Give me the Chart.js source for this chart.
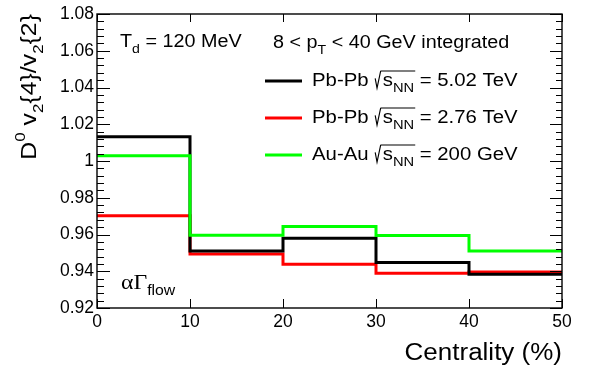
<!DOCTYPE html>
<html>
<head>
<meta charset="utf-8">
<script src="https://cdn.jsdelivr.net/npm/chart.js@4.4.1/dist/chart.umd.min.js"></script>
<style>
  html, body { margin: 0; padding: 0; background: #fff; }
  #wrap { width: 596px; height: 370px; }
</style>
</head>
<body>
<div id="wrap"><canvas id="chart" width="596" height="370"></canvas></div>
<script>
// bin edges in centrality (%) and one value per bin
const binEdges = [0, 10, 20, 30, 40, 50];
const pbpb502 = [1.0132, 0.9510, 0.9579, 0.9447, 0.9383];
const pbpb276 = [0.9702, 0.9494, 0.9438, 0.9389, 0.9396];
const auau200 = [1.0029, 0.9596, 0.9643, 0.9594, 0.9510];
const xTicks = [0, 10, 20, 30, 40, 50];
const yTicks = [0.92, 0.94, 0.96, 0.98, 1.00, 1.02, 1.04, 1.06, 1.08];

const SANS = "'Liberation Sans', Arial, sans-serif";
const SERIF = "'Liberation Serif', 'Times New Roman', serif";
const SX = 1.13; // text in the reference is a bit wide

function stepPoints(vals) {
  return binEdges.map((x, i) => ({ x: x, y: vals[Math.min(i, vals.length - 1)] }));
}

// parts: [text, kind, size, family]; kind: n | sub | sup | sqrtStart | sqrtEnd
function drawRich(ctx, x, y, parts, align) {
  ctx.save();
  let width = 0;
  parts.forEach(p => {
    if (p[1] === "sqrtStart") { width += p[2] * 0.42; return; }
    if (p[1] === "sqrtEnd") return;
    ctx.font = p[2] + "px " + (p[3] || SANS);
    width += ctx.measureText(p[0]).width;
  });
  ctx.translate(x, y);
  ctx.scale(SX, 1);
  let cx = align === "right" ? -width : 0;
  let sqrtX = null, sqrtSize = 0;
  ctx.fillStyle = "#000";
  ctx.strokeStyle = "#000";
  ctx.textBaseline = "alphabetic";
  ctx.textAlign = "left";
  parts.forEach(p => {
    const [t, kind, size, fam] = p;
    if (kind === "sqrtStart") {
      sqrtX = cx; sqrtSize = size;
      ctx.lineWidth = 1;
      ctx.beginPath();
      ctx.moveTo(cx + size * 0.05, -size * 0.42);
      ctx.lineTo(cx + size * 0.14, size * 0.12);
      ctx.lineTo(cx + size * 0.32, -size * 0.84);
      ctx.stroke();
      cx += size * 0.42;
      return;
    }
    if (kind === "sqrtEnd") {
      ctx.lineWidth = 1;
      ctx.beginPath();
      ctx.moveTo(sqrtX + sqrtSize * 0.32, -sqrtSize * 0.84);
      ctx.lineTo(cx + 1, -sqrtSize * 0.84);
      ctx.stroke();
      return;
    }
    ctx.font = size + "px " + (fam || SANS);
    let dy = 0;
    if (kind === "sub") dy = size * 0.45;
    if (kind === "sup") dy = -size * 0.75;
    ctx.fillText(t, cx, dy);
    cx += ctx.measureText(t).width;
  });
  ctx.restore();
}

function legendParts(system, energy) {
  return [[system + " ", "n", 18], ["", "sqrtStart", 18], ["s", "n", 18], ["NN", "sub", 13],
          ["", "sqrtEnd"], [" = " + energy, "n", 18]];
}

const framePlugin = {
  id: "frame",
  afterDatasetsDraw(chart) {
    const ctx = chart.ctx;
    const a = chart.chartArea;
    const xs = chart.scales.x, ys = chart.scales.y;
    ctx.save();
    ctx.strokeStyle = "#000";
    ctx.lineWidth = 1.4;
    ctx.strokeRect(a.left, a.top, a.right - a.left, a.bottom - a.top);
    ctx.lineWidth = 1;
    ctx.beginPath();
    // x ticks, bottom and top, pointing inward
    xTicks.forEach(v => {
      const px = Math.round(xs.getPixelForValue(v)) + 0.5;
      ctx.moveTo(px, a.bottom); ctx.lineTo(px, a.bottom - 9);
      ctx.moveTo(px, a.top); ctx.lineTo(px, a.top + 8);
    });
    // y ticks with 4 minor between majors, left and right
    for (let i = 0; i < yTicks.length; i++) {
      const v0 = yTicks[i];
      const py = Math.round(ys.getPixelForValue(v0)) + 0.5;
      ctx.moveTo(a.left, py); ctx.lineTo(a.left + 13, py);
      ctx.moveTo(a.right, py); ctx.lineTo(a.right - 12, py);
      if (i < yTicks.length - 1) {
        const step = (yTicks[i + 1] - v0) / 5;
        for (let k = 1; k < 5; k++) {
          const pm = Math.round(ys.getPixelForValue(v0 + k * step)) + 0.5;
          ctx.moveTo(a.left, pm); ctx.lineTo(a.left + 7, pm);
          ctx.moveTo(a.right, pm); ctx.lineTo(a.right - 6, pm);
        }
      }
    }
    ctx.stroke();
    ctx.restore();
  },
  afterDraw(chart) {
    const ctx = chart.ctx;
    const a = chart.chartArea;
    // axis titles
    drawRich(ctx, a.right, 360, [["Centrality (%)", "n", 23]], "right");
    ctx.save();
    ctx.translate(36, a.top);
    ctx.rotate(-Math.PI / 2);
    drawRich(ctx, 0, 0, [
      ["D", "n", 22], ["0", "sup", 15], [" v", "n", 22], ["2", "sub", 15],
      ["{4}/v", "n", 22], ["2", "sub", 15], ["{2}", "n", 22]
    ], "right");
    ctx.restore();

    // annotations
    drawRich(ctx, 120, 47, [["T", "n", 17.5], ["d", "sub", 12.5], [" = 120 MeV", "n", 17.5]]);
    drawRich(ctx, 273, 48, [["8 < p", "n", 17.5], ["T", "sub", 12.5], [" < 40 GeV integrated", "n", 17.5]]);
    drawRich(ctx, 121, 289, [["\u03b1\u0393", "n", 21, SERIF], ["flow", "sub", 14]]);

    // legend
    const legendRows = [
      { color: "#000000", y: 81, parts: legendParts("Pb-Pb", "5.02 TeV") },
      { color: "#ff0000", y: 118, parts: legendParts("Pb-Pb", "2.76 TeV") },
      { color: "#00ff00", y: 155, parts: legendParts("Au-Au", "200 GeV") }
    ];
    legendRows.forEach(r => {
      ctx.save();
      ctx.strokeStyle = r.color;
      ctx.lineWidth = 3;
      ctx.beginPath();
      ctx.moveTo(265, r.y); ctx.lineTo(302, r.y);
      ctx.stroke();
      ctx.restore();
      drawRich(ctx, 312, r.y + 5, r.parts);
    });
  }
};

const ctx = document.getElementById("chart").getContext("2d");
new Chart(ctx, {
  type: "line",
  data: {
    datasets: [
      { label: "Pb-Pb 5.02 TeV", data: stepPoints(pbpb502), borderColor: "#000000", order: 1 },
      { label: "Pb-Pb 2.76 TeV", data: stepPoints(pbpb276), borderColor: "#ff0000", order: 2 },
      { label: "Au-Au 200 GeV", data: stepPoints(auau200), borderColor: "#00ff00", order: 0 }
    ].map(d => Object.assign(d, { stepped: "before", borderWidth: 3, pointRadius: 0, fill: false }))
  },
  options: {
    responsive: false,
    animation: false,
    layout: { padding: { left: 0, top: 14, right: 34, bottom: 0 } },
    plugins: { legend: { display: false }, tooltip: { enabled: false } },
    scales: {
      x: {
        type: "linear",
        min: 0, max: 50,
        afterBuildTicks: s => { s.ticks = xTicks.map(v => ({ value: v })); },
        afterFit: s => { s.height = 62; },
        grid: { display: false, drawTicks: false },
        border: { display: false },
        ticks: { color: "#000", padding: 4, maxRotation: 0, font: { family: SANS, size: 17.5 } }
      },
      y: {
        type: "linear",
        min: 0.92, max: 1.08,
        afterBuildTicks: s => { s.ticks = yTicks.map(v => ({ value: v })); },
        afterFit: s => { s.width = 97; },
        grid: { display: false, drawTicks: false },
        border: { display: false },
        ticks: {
          color: "#000", padding: 3,
          font: { family: SANS, size: 17.5 },
          callback: v => String(Number(v.toFixed(2)))
        }
      }
    }
  },
  plugins: [framePlugin]
});
</script>
</body>
</html>
